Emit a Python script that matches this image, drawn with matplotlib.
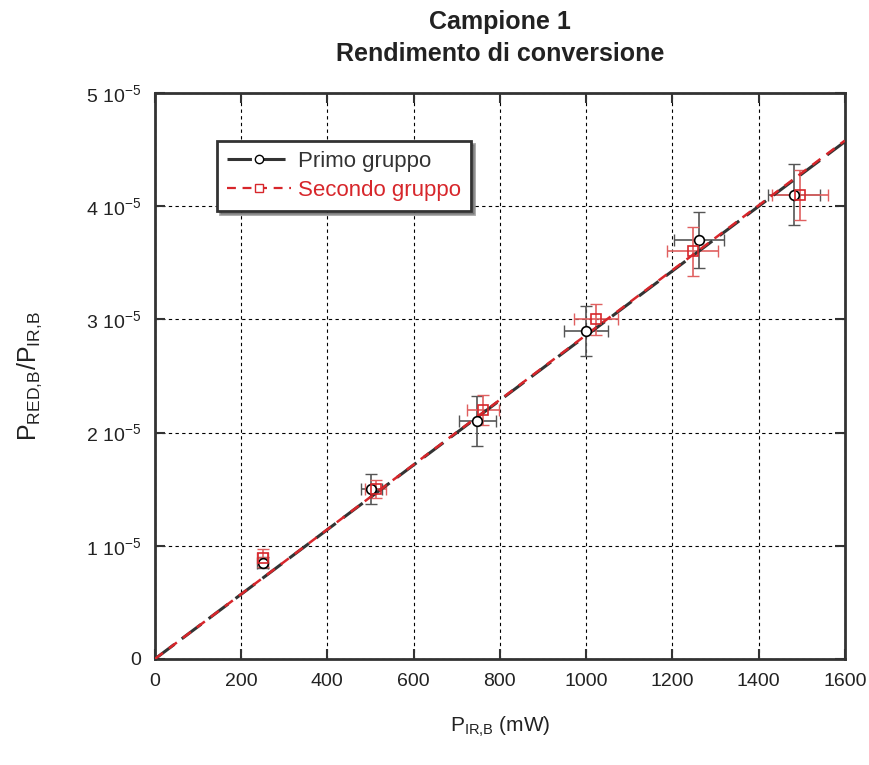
import matplotlib.pyplot as plt
from matplotlib.ticker import FixedLocator

plt.rcParams['font.family'] = ['Liberation Sans', 'DejaVu Sans']
plt.rcParams['mathtext.fontset'] = 'custom'
plt.rcParams['mathtext.rm'] = 'Liberation Sans'
plt.rcParams['mathtext.it'] = 'Liberation Sans:italic'

# Primo gruppo
p_ir_1 = [250, 502, 748, 1000, 1262, 1482]
rend_1 = [0.85e-5, 1.50e-5, 2.10e-5, 2.90e-5, 3.70e-5, 4.10e-5]
xerr_1 = [12, 25, 42, 52, 57, 60]
yerr_1 = [0.05e-5, 0.13e-5, 0.22e-5, 0.22e-5, 0.25e-5, 0.27e-5]

# Secondo gruppo
p_ir_2 = [250, 512, 761, 1023, 1247, 1497]
rend_2 = [0.89e-5, 1.50e-5, 2.20e-5, 3.00e-5, 3.60e-5, 4.10e-5]
xerr_2 = [12, 25, 37, 50, 60, 65]
yerr_2 = [0.08e-5, 0.08e-5, 0.13e-5, 0.14e-5, 0.22e-5, 0.22e-5]

# pendenze dei fit lineari (per l'origine)
slope_1 = 2.856e-8
slope_2 = 2.862e-8
fit_x = [0, 1600]

red = '#d7262b'
dark = '#333333'

fig = plt.figure(figsize=(8.7, 7.65), dpi=100)
ax = fig.add_axes([0.178, 0.1386, 0.793, 0.7398])

ax.errorbar(p_ir_1, rend_1, xerr=xerr_1, yerr=yerr_1, fmt='none',
            ecolor='#555555', elinewidth=1.2, capsize=4, zorder=3)
ax.errorbar(p_ir_2, rend_2, xerr=xerr_2, yerr=yerr_2, fmt='none',
            ecolor='#e06060', elinewidth=1.2, capsize=4, zorder=3)

ax.plot(fit_x, [slope_1 * v for v in fit_x], color=dark, lw=2.2,
        dashes=(8, 3), zorder=4)
ax.plot(fit_x, [slope_2 * v for v in fit_x], color=red, lw=1.8,
        dashes=(4, 3), zorder=5)

ax.plot(p_ir_1, rend_1, 'o', ms=7, mfc='white', mec='black', mew=1.2, zorder=6)
ax.plot(p_ir_2, rend_2, 's', ms=7.5, mfc='none', mec=red, mew=1.2, zorder=6)

# voci di legenda
h1, = ax.plot([], [], color=dark, lw=2.2, dashes=(8, 3), marker='o',
              ms=6, mfc='white', mec='black')
h2, = ax.plot([], [], color=red, lw=1.6, dashes=(4, 3), marker='s',
              ms=6, mfc='white', mec=red)

ax.set_xlim(0, 1600)
ax.set_ylim(0, 5e-5)
ax.xaxis.set_major_locator(FixedLocator(range(0, 1601, 200)))
ax.set_yticks([0, 1e-5, 2e-5, 3e-5, 4e-5, 5e-5])
ax.set_yticklabels(['0'] + ['%d 10$^{-5}$' % i for i in range(1, 6)])

ax.grid(True, color='black', linestyle=(0, (3, 3)), lw=0.8)
ax.tick_params(direction='in', length=7, width=1.5, labelsize=14,
               top=True, right=True, pad=10, colors=dark)
ax.tick_params(labelcolor='#222222')
for s in ax.spines.values():
    s.set_linewidth(2)
    s.set_color(dark)

ax.set_xlabel('P$_{\\mathrm{IR{,}B}}$ (mW)', fontsize=15, labelpad=18, color='#222222')
ax.set_ylabel('P$_{\\mathrm{RED{,}B}}$/P$_{\\mathrm{IR{,}B}}$', fontsize=18,
              labelpad=30, color='#222222')
ax.set_title('Campione 1\nRendimento di conversione', fontsize=18,
             fontweight='bold', pad=23, color='#222222', linespacing=1.45)

leg = ax.legend([h1, h2], ['Primo gruppo', 'Secondo gruppo'],
                loc='upper left', bbox_to_anchor=(0.09, 0.915), fontsize=16,
                fancybox=False, shadow=True, framealpha=1, borderpad=0.45,
                labelspacing=0.35, handlelength=2.9, handletextpad=0.3,
                borderaxespad=0)
leg.get_frame().set_edgecolor(dark)
leg.get_frame().set_linewidth(2)
leg.get_texts()[1].set_color(red)
leg.get_texts()[0].set_color('#333333')

fig.savefig('out.png', dpi=100)
